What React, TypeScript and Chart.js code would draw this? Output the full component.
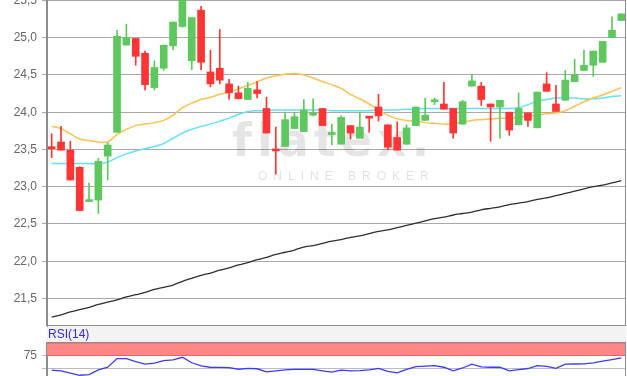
import React, { useEffect, useRef } from 'react';
import { Chart, registerables } from 'chart.js';

Chart.register(...registerables);

// ---- Data ----
const OPEN = [23.53, 23.60, 23.49, 23.26, 22.80, 22.82, 23.41, 23.73, 24.90, 24.99, 24.79, 24.33, 24.59, 24.89, 25.15, 24.69, 25.37, 24.54, 24.59, 24.38, 24.26, 24.17, 24.30, 24.05, 23.49, 23.54, 23.78, 23.74, 23.96, 24.05, 23.70, 23.57, 23.82, 23.65, 23.94, 24.07, 23.83, 23.66, 23.57, 23.82, 23.89, 24.14, 24.11, 24.05, 23.84, 24.35, 24.35, 24.11, 24.07, 24.00, 23.83, 23.99, 23.79, 24.38, 24.11, 24.16, 24.41, 24.56, 24.63, 24.67, 25.00, 25.23];
const HIGH = [23.71, 23.81, 23.61, 23.27, 23.05, 23.38, 23.59, 25.10, 25.18, 24.99, 24.82, 24.69, 24.90, 25.21, 25.65, 25.27, 25.42, 24.83, 25.11, 24.44, 24.35, 24.40, 24.41, 24.20, 23.80, 24.00, 24.00, 24.17, 24.18, 24.05, 23.84, 23.95, 23.82, 24.00, 23.94, 24.24, 23.83, 23.87, 23.83, 24.07, 24.19, 24.19, 24.40, 24.05, 24.16, 24.50, 24.40, 24.11, 24.16, 24.00, 24.26, 23.99, 24.27, 24.53, 24.36, 24.56, 24.71, 24.83, 24.82, 24.95, 25.28, 25.32];
const LOW = [23.39, 23.49, 23.09, 22.68, 22.80, 22.64, 23.09, 23.73, 24.90, 24.63, 24.30, 24.30, 24.56, 24.84, 25.14, 24.57, 24.57, 24.34, 24.38, 24.17, 24.18, 24.17, 24.19, 23.72, 23.17, 23.54, 23.78, 23.74, 23.95, 23.82, 23.56, 23.57, 23.64, 23.65, 23.73, 23.88, 23.50, 23.49, 23.57, 23.82, 23.89, 24.10, 24.04, 23.65, 23.84, 24.35, 24.09, 23.61, 23.65, 23.69, 23.83, 23.81, 23.79, 24.28, 24.01, 24.16, 24.41, 24.56, 24.48, 24.67, 25.00, 25.23];
const CLOSE = [23.51, 23.49, 23.09, 22.68, 22.82, 23.34, 23.56, 25.02, 25.00, 24.75, 24.37, 24.60, 24.90, 25.21, 25.60, 25.27, 24.67, 24.38, 24.43, 24.26, 24.18, 24.32, 24.25, 23.72, 23.48, 23.90, 23.94, 24.03, 23.97, 23.82, 23.71, 23.93, 23.72, 23.80, 23.92, 23.95, 23.53, 23.49, 23.79, 24.07, 23.96, 24.15, 24.04, 23.72, 24.14, 24.42, 24.17, 24.07, 24.16, 23.76, 24.05, 23.89, 24.27, 24.28, 24.01, 24.43, 24.50, 24.63, 24.82, 24.95, 25.10, 25.32];

const MA_SHORT = [23.81, 23.78, 23.71, 23.64, 23.62, 23.60, 23.60, 23.70, 23.77, 23.82, 23.84, 23.86, 23.89, 23.96, 24.06, 24.12, 24.17, 24.20, 24.24, 24.27, 24.31, 24.36, 24.41, 24.46, 24.49, 24.51, 24.52, 24.50, 24.46, 24.41, 24.37, 24.32, 24.24, 24.18, 24.11, 24.03, 23.96, 23.91, 23.89, 23.88, 23.86, 23.85, 23.84, 23.84, 23.87, 23.89, 23.90, 23.91, 23.92, 23.92, 23.93, 23.95, 23.96, 23.98, 23.99, 24.02, 24.08, 24.14, 24.19, 24.23, 24.28, 24.33];
const MA_MID = [23.31, 23.31, 23.31, 23.31, 23.31, 23.31, 23.33, 23.39, 23.44, 23.48, 23.51, 23.54, 23.58, 23.65, 23.72, 23.77, 23.81, 23.84, 23.88, 23.92, 23.97, 24.01, 24.02, 24.02, 24.03, 24.03, 24.03, 24.03, 24.03, 24.03, 24.02, 24.02, 24.02, 24.02, 24.02, 24.03, 24.03, 24.03, 24.04, 24.04, 24.05, 24.05, 24.05, 24.05, 24.05, 24.05, 24.05, 24.05, 24.05, 24.05, 24.06, 24.10, 24.15, 24.17, 24.19, 24.19, 24.19, 24.18, 24.18, 24.19, 24.21, 24.22];
const MA_LONG = [21.25, 21.28, 21.32, 21.35, 21.38, 21.42, 21.45, 21.48, 21.52, 21.55, 21.58, 21.62, 21.65, 21.68, 21.73, 21.77, 21.81, 21.84, 21.88, 21.91, 21.95, 21.98, 22.02, 22.05, 22.09, 22.12, 22.15, 22.19, 22.21, 22.24, 22.27, 22.29, 22.32, 22.34, 22.37, 22.40, 22.42, 22.45, 22.48, 22.51, 22.54, 22.57, 22.59, 22.62, 22.64, 22.66, 22.69, 22.71, 22.73, 22.76, 22.78, 22.80, 22.83, 22.85, 22.88, 22.91, 22.94, 22.97, 23.00, 23.02, 23.05, 23.08];

const RSI = [47, 45.6, 41, 37, 38.4, 47.5, 52.4, 69, 69, 63, 58.5, 60.4, 65, 66.4, 71.6, 61, 55, 52.4, 52, 51.6, 48.6, 50.4, 49.5, 43.6, 45.6, 47.5, 48.4, 48.4, 48.2, 45.6, 43, 47, 45.5, 46, 47.5, 50.4, 44.5, 41.6, 48.4, 53.6, 54.5, 55.6, 52.4, 45.6, 51, 58.4, 53, 52.4, 52.4, 45.6, 48, 50, 55.6, 54, 50.4, 58.4, 58.7, 59, 61, 64, 67, 70.4];

const PRICE_TICKS = [21.5, 22.0, 22.5, 23.0, 23.5, 24.0, 24.5, 25.0, 25.5];
const RSI_TICKS = [25, 50, 75];
const RSI_BAND = [75, 100];

const LABELS = OPEN.map((_, i) => String(i + 1));

const GREEN = '#5ec85e';
const RED = '#ff3434';

const frame = {
  id: 'frame',
  afterDatasetsDraw(chart: any) {
    const { ctx, chartArea } = chart;
    ctx.save();
    ctx.strokeStyle = '#8c8c8c';
    ctx.lineWidth = 1;
    ctx.strokeRect(Math.round(chartArea.left) - 0.5, Math.round(chartArea.top) - 0.5,
      Math.round(chartArea.right) - Math.round(chartArea.left), Math.round(chartArea.bottom) - Math.round(chartArea.top));
    ctx.restore();
  },
};

const watermark = {
  id: 'watermark',
  beforeDatasetsDraw(chart: any) {
    const { ctx } = chart;
    ctx.save();
    ctx.fillStyle = 'rgba(0,0,0,0.10)';
    ctx.font = 'bold 46px "DejaVu Sans"';
    ctx.textBaseline = 'alphabetic';
    ctx.textAlign = 'left';
    (ctx as any).letterSpacing = '5px';
    ctx.fillText('flatex.', 232, 176);
    ctx.fillStyle = 'rgba(0,0,0,0.12)';
    ctx.font = '12px "Liberation Sans", Arial';
    (ctx as any).letterSpacing = '6px';
    ctx.fillText('ONLINE BROKER', 258, 200);
    ctx.restore();
  },
};

const band = {
  id: 'band',
  beforeDatasetsDraw(chart: any) {
    const { ctx, chartArea, scales } = chart;
    const y = scales.y;
    const top = y.getPixelForValue(RSI_BAND[1]);
    const bot = y.getPixelForValue(RSI_BAND[0]);
    ctx.save();
    ctx.fillStyle = '#ff8686';
    ctx.fillRect(chartArea.left, top, chartArea.right - chartArea.left, bot - top);
    ctx.strokeStyle = '#dd6a6a';
    ctx.lineWidth = 1;
    ctx.beginPath();
    ctx.moveTo(chartArea.left, top + 0.5);
    ctx.lineTo(chartArea.right, top + 0.5);
    ctx.moveTo(chartArea.left, bot);
    ctx.lineTo(chartArea.right, bot);
    ctx.stroke();
    ctx.restore();
  },
};

const fmt = (v: number) => v.toFixed(1).replace('.', ',');

const fitAxis = (s: any) => {
  s.width = 47;
  s.paddingTop = 0;
  s.paddingBottom = 0;
};

export default function App() {
  const mainRef = useRef<HTMLCanvasElement>(null);
  const rsiRef = useRef<HTMLCanvasElement>(null);

  useEffect(() => {
    const colors = OPEN.map((o, i) => (CLOSE[i] >= o ? GREEN : RED));
    const main = new Chart(mainRef.current as HTMLCanvasElement, {
      type: 'bar',
      data: {
        labels: LABELS,
        datasets: [
          { type: 'line', data: MA_LONG, borderColor: '#2f2f2f', borderWidth: 1.3, pointRadius: 0, tension: 0.3, order: 5 } as any,
          { type: 'line', data: MA_MID, borderColor: '#62e0ff', borderWidth: 1.5, pointRadius: 0, tension: 0.3, order: 4 } as any,
          { type: 'line', data: MA_SHORT, borderColor: '#ffc14d', borderWidth: 1.5, pointRadius: 0, tension: 0.3, order: 3 } as any,
          { type: 'bar', data: LOW.map((l, i) => [l, HIGH[i]]), backgroundColor: colors, barThickness: 1, grouped: false, order: 2 } as any,
          { type: 'bar', data: OPEN.map((o, i) => [o, CLOSE[i]]), backgroundColor: colors, barThickness: 7, minBarLength: 2, grouped: false, order: 1 } as any,
        ],
      },
      options: {
        responsive: false,
        maintainAspectRatio: false,
        animation: false,
        layout: { padding: { top: 13, bottom: 4, left: 0, right: 1 } },
        plugins: { legend: { display: false }, tooltip: { enabled: false } },
        scales: {
          x: { display: false, offset: true, grid: { display: false } },
          y: {
            min: 21.13,
            max: 25.6,
            afterBuildTicks: (s: any) => { s.ticks = PRICE_TICKS.map((v) => ({ value: v })); },
            afterFit: fitAxis,
            grid: { color: '#a9a9a9', lineWidth: 1, tickLength: 5 },
            border: { color: '#8c8c8c', width: 1 },
            ticks: { color: '#666', padding: 5, font: { family: '"Liberation Sans", Arial', size: 12 }, callback: (v: any) => fmt(Number(v)) },
          },
        },
      } as any,
      plugins: [watermark, frame],
    });

    const rsi = new Chart(rsiRef.current as HTMLCanvasElement, {
      type: 'line',
      data: {
        labels: LABELS,
        datasets: [
          { data: RSI, borderColor: '#3a3aff', borderWidth: 1.3, pointRadius: 0, tension: 0 },
        ],
      },
      options: {
        responsive: false,
        maintainAspectRatio: false,
        animation: false,
        layout: { padding: { top: 6.5, bottom: 11.5, left: 0, right: 1 } },
        plugins: { legend: { display: false }, tooltip: { enabled: false } },
        scales: {
          x: { display: false, offset: true, grid: { display: false } },
          y: {
            min: 0,
            max: 100,
            afterBuildTicks: (s: any) => { s.ticks = RSI_TICKS.map((v) => ({ value: v })); },
            afterFit: fitAxis,
            grid: { color: '#bcbcbc', lineWidth: 1, tickLength: 5 },
            border: { color: '#8c8c8c', width: 1 },
            ticks: { color: '#666', padding: 5, font: { family: '"Liberation Sans", Arial', size: 12 }, callback: (v: any) => (Number(v) === 50 ? '' : String(v)) },
          },
        },
      } as any,
      plugins: [band, frame],
    });

    return () => {
      main.destroy();
      rsi.destroy();
    };
  }, []);

  return (
    <div style={{ position: 'fixed', left: 0, top: 0, width: 627, height: 376, overflow: 'hidden', background: '#fff' }}>
      <div style={{ position: 'absolute', left: 47, top: 326, width: 579, height: 16, background: '#f3f3f3' }} />
      <canvas ref={mainRef} width={627} height={350} style={{ position: 'absolute', left: 0, top: -20, width: 627, height: 350 }} />
      <canvas ref={rsiRef} width={627} height={70} style={{ position: 'absolute', left: 0, top: 336, width: 627, height: 70 }} />
      <span style={{ position: 'absolute', left: 48, top: 328, font: '12px "Liberation Sans", Arial', color: '#2b2bff', lineHeight: '13px' }}>RSI(14)</span>
    </div>
  );
}
